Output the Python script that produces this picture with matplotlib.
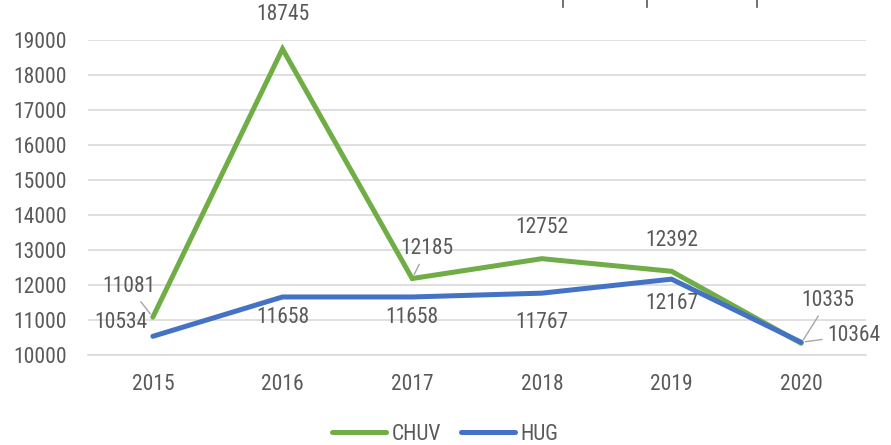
import matplotlib
matplotlib.use("Agg")
import matplotlib.pyplot as plt
from matplotlib.lines import Line2D

years = ["2015", "2016", "2017", "2018", "2019", "2020"]
chuv = [11081, 18745, 12185, 12752, 12392, 10335]
hug = [10534, 11658, 11658, 11767, 12167, 10364]
yticks = [10000, 11000, 12000, 13000, 14000, 15000, 16000, 17000, 18000, 19000]

plt.rcParams['font.family'] = ['Roboto Condensed', 'DejaVu Sans']

GREEN = "#70AD47"
BLUE = "#4472C4"
TXT = "#595959"
FS = 15.5

fig = plt.figure(figsize=(8.91, 4.45), dpi=100)
ax = fig.add_axes([88/891, 1-355/445, (866-88)/891, (355-40)/445])
x = list(range(len(years)))
ax.plot(x, chuv, color=GREEN, lw=3.6, solid_capstyle='round', solid_joinstyle='miter', zorder=3, label="CHUV")
ax.plot(x, hug, color=BLUE, lw=3.6, solid_capstyle='round', solid_joinstyle='miter', zorder=3, label="HUG")

ax.set_xlim(-0.5, 5.5)
ax.set_ylim(10000, 19000)
ax.set_yticks(yticks)
ax.set_xticks(x)
ax.set_xticklabels(years)
ax.grid(axis='y', color="#D9D9D9", lw=1.2)
ax.set_axisbelow(True)
for s in ["top", "right", "left"]:
    ax.spines[s].set_visible(False)
ax.spines["bottom"].set_color("#D9D9D9")
ax.spines["bottom"].set_linewidth(1.2)
ax.tick_params(axis='both', length=0, labelsize=FS, colors=TXT)
ax.tick_params(axis='x', pad=14)
ax.tick_params(axis='y', pad=15)

chuv_off = [(-24, 31), (0, 34), (15, 30), (0, 31), (0, 31), (27, 43)]
hug_off = [(-32, 14), (0, -21), (0, -21), (0, -29), (0, -24), (53, 7)]
chuv_lead = [True, False, True, False, False, True]
hug_lead = [False, False, False, False, False, True]

def label(vals, offs, leads):
    for i, (v, o, l) in enumerate(zip(vals, offs, leads)):
        kw = {}
        if l:
            kw['arrowprops'] = dict(arrowstyle='-', color="#A6A6A6", lw=1, shrinkA=2, shrinkB=3)
        ax.annotate(str(v), (i, v), xytext=o, textcoords='offset pixels',
                    ha='center', va='center', fontsize=FS, color=TXT,
                    annotation_clip=False, zorder=4, **kw)

label(chuv, chuv_off, chuv_lead)
label(hug, hug_off, hug_lead)

handles = [Line2D([], [], color=GREEN, lw=3.6, solid_capstyle='round'),
           Line2D([], [], color=BLUE, lw=3.6, solid_capstyle='round')]
fig.legend(handles, ["CHUV", "HUG"], loc='center', bbox_to_anchor=(0.5, 1-434/445),
           ncol=2, frameon=False, fontsize=FS, labelcolor=TXT, handlelength=2.5,
           handletextpad=0.25, columnspacing=0.95, borderpad=0)

# small marks at top edge
for px in [563, 647, 757]:
    fig.add_artist(Line2D([px/891, px/891], [1, 1-7/445], color="#595959", lw=1.2))

fig.savefig("out.png", dpi=100)
